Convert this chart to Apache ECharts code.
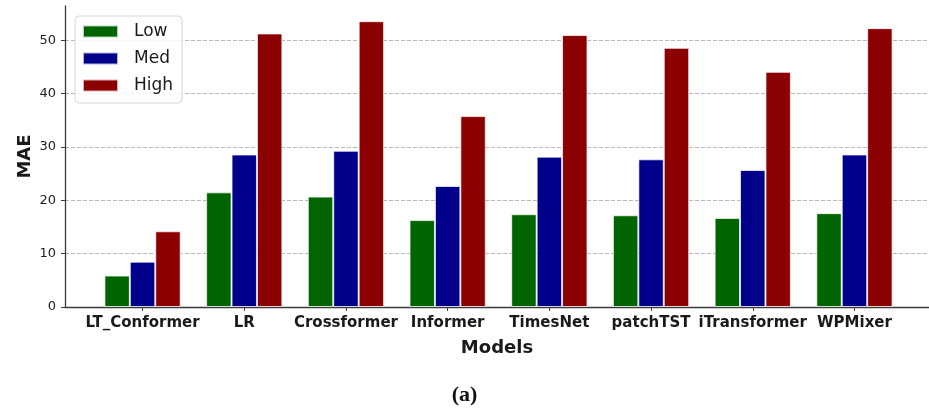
<!DOCTYPE html>
<html>
<head>
<meta charset="utf-8">
<script src="https://cdn.jsdelivr.net/npm/echarts@6/dist/echarts.min.js"></script>
<style>
  html, body { margin: 0; padding: 0; background: #fff; }
  #chart { width: 929px; height: 409px; }
</style>
</head>
<body>
<div id="chart"></div>
<script>
// MAE per model at three load levels
const models = ['LT_Conformer', 'LR', 'Crossformer', 'Informer', 'TimesNet', 'patchTST', 'iTransformer', 'WPMixer'];
const lowMAE  = [5.9, 21.5, 20.7, 16.3, 17.4, 17.2, 16.7, 17.6];
const medMAE  = [8.5, 28.6, 29.3, 22.7, 28.2, 27.7, 25.7, 28.6];
const highMAE = [14.2, 51.3, 53.6, 35.8, 51.0, 48.6, 44.1, 52.3];
const seriesNames = ['Low', 'Med', 'High'];
const seriesColors = ['#006400', '#00008b', '#8b0000'];
const yTicks = [0, 10, 20, 30, 40, 50];

// Axis frame: plot area spans [-0.7625, 7.7625] in category units
const frameLeft = 65, frameWidth = 867, frameTop = 6, frameBottom = 102;
const pad = 0.7625, span = models.length - 1 + 2 * pad;
const band = frameWidth / span;
const yMax = 56.45;

const chart = echarts.init(document.getElementById('chart'), null, { renderer: 'canvas' });

const textColor = '#1a1a1a';
const axisColor = '#3a3a3a';

const option = {
  backgroundColor: '#ffffff',
  animation: false,
  title: {
    text: '{p|(}{b|a}{p|)}',
    left: 'center',
    bottom: -2,
    textStyle: {
      rich: {
        p: { fontFamily: 'Liberation Serif', fontSize: 22, color: '#111' },
        b: { fontFamily: 'Liberation Serif', fontSize: 22, fontWeight: 'bold', color: '#111' }
      }
    }
  },
  legend: {
    orient: 'vertical',
    left: 75,
    top: 16,
    padding: [7, 9, 9, 7],
    itemGap: 10,
    itemWidth: 35,
    itemHeight: 12,
    icon: 'rect',
    backgroundColor: 'rgba(255,255,255,0.85)',
    borderColor: '#d6d6d6',
    borderWidth: 1,
    borderRadius: 4,
    textStyle: { fontFamily: 'DejaVu Sans', fontSize: 17, color: textColor, padding: [0, 0, 0, 11] },
    data: seriesNames
  },
  grid: [
    { left: frameLeft, width: frameWidth, top: frameTop, bottom: frameBottom, containLabel: false },
    { left: frameLeft + (pad - 0.5) * band, width: models.length * band, top: frameTop, bottom: frameBottom, containLabel: false }
  ],
  xAxis: [
    {
      type: 'value', gridIndex: 0, min: 0, max: 1,
      name: 'Models', nameLocation: 'middle', nameGap: 32, nameMoveOverlap: false,
      nameTextStyle: { fontFamily: 'DejaVu Sans', fontSize: 18, fontWeight: 'bold', color: textColor },
      axisLine: { show: true, lineStyle: { color: axisColor, width: 1.3 } },
      axisTick: { show: false }, axisLabel: { show: false }, splitLine: { show: false }
    },
    {
      type: 'category', gridIndex: 1, data: models, boundaryGap: true,
      axisLine: { show: false },
      axisTick: { show: true, alignWithLabel: true, length: 4, lineStyle: { color: axisColor, width: 1 } },
      axisLabel: { margin: 9, fontFamily: 'DejaVu Sans', fontSize: 15, fontWeight: 'bold', color: textColor, interval: 0 },
      splitLine: { show: false }
    }
  ],
  yAxis: [
    {
      type: 'value', gridIndex: 0, min: 0, max: yMax, interval: 10,
      name: 'MAE', nameLocation: 'middle', nameGap: 31, nameRotate: 90, nameMoveOverlap: false,
      nameTextStyle: { fontFamily: 'DejaVu Sans', fontSize: 18, fontWeight: 'bold', color: textColor },
      axisLine: { show: true, lineStyle: { color: axisColor, width: 1.3 } },
      axisTick: { show: true, length: 4, lineStyle: { color: axisColor } },
      axisLabel: {
        margin: 9, fontFamily: 'DejaVu Sans', fontSize: 13, color: '#222',
        showMaxLabel: false,
        formatter: v => (yTicks.indexOf(v) >= 0 ? String(v) : '')
      },
      splitLine: { show: true, showMinLine: false, showMaxLine: false, lineStyle: { color: '#b8b8b8', type: [4, 2], width: 1 } }
    },
    {
      type: 'value', gridIndex: 1, min: 0, max: yMax, interval: 10, show: false,
      splitLine: { show: false }
    }
  ],
  series: [lowMAE, medMAE, highMAE].map((vals, i) => ({
    name: seriesNames[i],
    type: 'bar',
    xAxisIndex: 1,
    yAxisIndex: 1,
    data: vals,
    barWidth: '25%',
    barGap: '0%',
    itemStyle: { color: seriesColors[i], borderColor: 'rgba(255,255,255,0.7)', borderWidth: 1 }
  }))
};

chart.setOption(option);
</script>
</body>
</html>
